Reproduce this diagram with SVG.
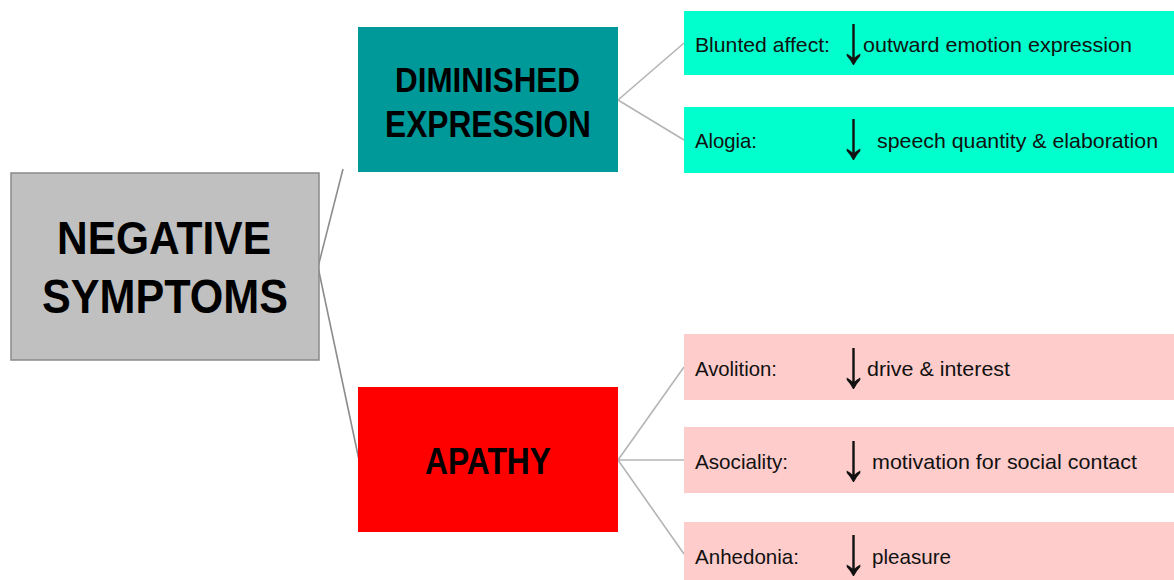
<svg xmlns="http://www.w3.org/2000/svg" width="1174" height="580" viewBox="0 0 1174 580">
<style>
.big{font-family:"Liberation Sans",Arial,sans-serif;font-weight:bold;fill:#000;text-anchor:start}
.sm{font-family:"Liberation Sans",Arial,sans-serif;font-size:21px;fill:#111}
.arr{font-family:"Liberation Sans",Arial,sans-serif;font-size:58px;fill:#111}
.cn{stroke:#b4b4b4;stroke-width:1.6;fill:none}
.cnd{stroke:#8c8c8c;stroke-width:1.6;fill:none}
</style>
<rect width="1174" height="580" fill="#fff"/>
<g id="connectors">
<line class="cnd" x1="318" y1="267" x2="343" y2="169"/>
<line class="cnd" x1="318" y1="267" x2="359" y2="460"/>
<line class="cn" x1="618" y1="100" x2="684" y2="43"/>
<line class="cn" x1="618" y1="100" x2="684" y2="140"/>
<line class="cn" x1="618" y1="460" x2="684" y2="367"/>
<line class="cn" x1="618" y1="460" x2="684" y2="460"/>
<line class="cn" x1="618" y1="460" x2="684" y2="554"/>
</g>
<g id="negative">
<rect x="11" y="173" width="308" height="187" fill="#c0c0c0" stroke="#8a8a8a" stroke-width="1.5"/>
<text class="big" x="57" y="254" font-size="47" textLength="214" lengthAdjust="spacingAndGlyphs">NEGATIVE</text>
<text class="big" x="42" y="313" font-size="48" textLength="246" lengthAdjust="spacingAndGlyphs">SYMPTOMS</text>
</g>
<g id="diminished">
<rect x="358" y="27" width="260" height="145" fill="#009999"/>
<text class="big" x="395" y="92" font-size="35" textLength="185" lengthAdjust="spacingAndGlyphs">DIMINISHED</text>
<text class="big" x="385" y="137" font-size="37" textLength="206" lengthAdjust="spacingAndGlyphs">EXPRESSION</text>
</g>
<g id="apathy">
<rect x="358" y="387" width="260" height="145" fill="#ff0000"/>
<text class="big" x="425" y="474" font-size="36" textLength="126" lengthAdjust="spacingAndGlyphs">APATHY</text>
</g>
<g id="blunted">
<rect x="684" y="11" width="490" height="64" fill="#00ffcc"/>
<text class="sm" x="695" y="52" textLength="135" lengthAdjust="spacingAndGlyphs">Blunted affect:</text>
<text class="arr" transform="translate(839,63) scale(1,1.2)">↓</text>
<text class="sm" x="863" y="52" textLength="269" lengthAdjust="spacingAndGlyphs">outward emotion expression</text>
</g>
<g id="alogia">
<rect x="684" y="107" width="490" height="66" fill="#00ffcc"/>
<text class="sm" x="695" y="148" textLength="62" lengthAdjust="spacingAndGlyphs">Alogia:</text>
<text class="arr" transform="translate(839,158) scale(1,1.2)">↓</text>
<text class="sm" x="877" y="148" textLength="281" lengthAdjust="spacingAndGlyphs">speech quantity &amp; elaboration</text>
</g>
<g id="avolition">
<rect x="684" y="334" width="490" height="66" fill="#ffcccc"/>
<text class="sm" x="695" y="376" textLength="82" lengthAdjust="spacingAndGlyphs">Avolition:</text>
<text class="arr" transform="translate(839,387) scale(1,1.2)">↓</text>
<text class="sm" x="867" y="376" textLength="143" lengthAdjust="spacingAndGlyphs">drive &amp; interest</text>
</g>
<g id="asociality">
<rect x="684" y="427" width="490" height="66" fill="#ffcccc"/>
<text class="sm" x="695" y="469" textLength="93" lengthAdjust="spacingAndGlyphs">Asociality:</text>
<text class="arr" transform="translate(839,480) scale(1,1.2)">↓</text>
<text class="sm" x="872" y="469" textLength="265" lengthAdjust="spacingAndGlyphs">motivation for social contact</text>
</g>
<g id="anhedonia">
<rect x="684" y="522" width="490" height="58" fill="#ffcccc"/>
<text class="sm" x="695" y="564" textLength="104" lengthAdjust="spacingAndGlyphs">Anhedonia:</text>
<text class="arr" transform="translate(839,574) scale(1,1.2)">↓</text>
<text class="sm" x="872" y="564" textLength="79" lengthAdjust="spacingAndGlyphs">pleasure</text>
</g>
</svg>
